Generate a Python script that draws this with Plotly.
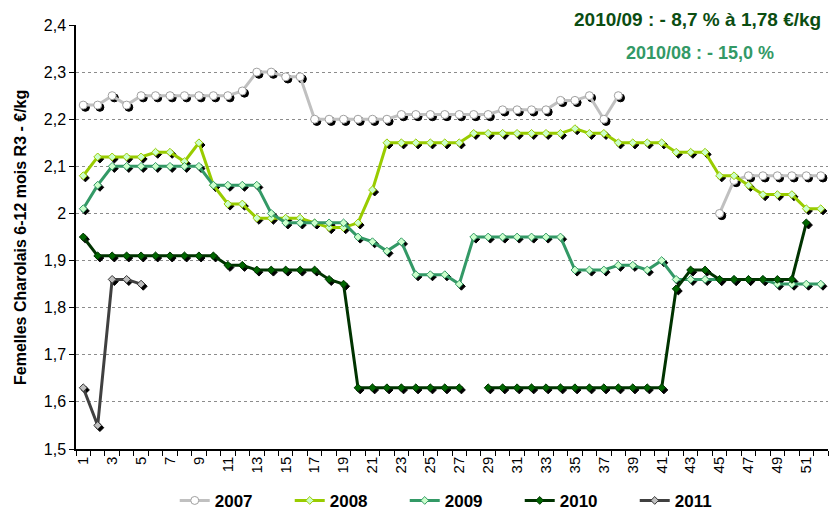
import plotly.graph_objects as go

weeks = list(range(1, 53))

y2007 = [2.23, 2.23, 2.25, 2.23, 2.25, 2.25, 2.25, 2.25, 2.25, 2.25,
         2.25, 2.26, 2.30, 2.30, 2.29, 2.29, 2.20, 2.20, 2.20, 2.20,
         2.20, 2.20, 2.21, 2.21, 2.21, 2.21, 2.21, 2.21, 2.21, 2.22,
         2.22, 2.22, 2.22, 2.24, 2.24, 2.25, 2.20, 2.25, None, None,
         None, None, None, None, 2.00, 2.07, 2.08, 2.08, 2.08, 2.08,
         2.08, 2.08]
y2008 = [2.08, 2.12, 2.12, 2.12, 2.12, 2.13, 2.13, 2.11, 2.15, 2.06,
         2.02, 2.02, 1.99, 1.99, 1.99, 1.99, 1.98, 1.97, 1.97, 1.98,
         2.05, 2.15, 2.15, 2.15, 2.15, 2.15, 2.15, 2.17, 2.17, 2.17,
         2.17, 2.17, 2.17, 2.17, 2.18, 2.17, 2.17, 2.15, 2.15, 2.15,
         2.15, 2.13, 2.13, 2.13, 2.08, 2.08, 2.06, 2.04, 2.04, 2.04,
         2.01, 2.01]
y2009 = [2.01, 2.06, 2.10, 2.10, 2.10, 2.10, 2.10, 2.10, 2.10, 2.06,
         2.06, 2.06, 2.06, 2.00, 1.98, 1.98, 1.98, 1.98, 1.98, 1.95,
         1.94, 1.92, 1.94, 1.87, 1.87, 1.87, 1.85, 1.95, 1.95, 1.95,
         1.95, 1.95, 1.95, 1.95, 1.88, 1.88, 1.88, 1.89, 1.89, 1.88,
         1.90, 1.86, 1.86, 1.86, 1.86, 1.86, 1.86, 1.86, 1.85, 1.85,
         1.85, 1.85]
y2010 = [1.95, 1.91, 1.91, 1.91, 1.91, 1.91, 1.91, 1.91, 1.91, 1.91,
         1.89, 1.89, 1.88, 1.88, 1.88, 1.88, 1.88, 1.86, 1.85, 1.63,
         1.63, 1.63, 1.63, 1.63, 1.63, 1.63, 1.63, None, 1.63, 1.63,
         1.63, 1.63, 1.63, 1.63, 1.63, 1.63, 1.63, 1.63, 1.63, 1.63,
         1.63, 1.84, 1.88, 1.88, 1.86, 1.86, 1.86, 1.86, 1.86, 1.86,
         1.98, None]
y2011 = [1.63, 1.55, 1.86, 1.86, 1.85]

series_names = ["2007", "2008", "2009", "2010", "2011"]
series_values = [y2007, y2008, y2009, y2010, y2011]

ytick_vals = [1.5, 1.6, 1.7, 1.8, 1.9, 2.0, 2.1, 2.2, 2.3, 2.4]
ytick_text = ["1,5", "1,6", "1,7", "1,8", "1,9", "2", "2,1", "2,2", "2,3", "2,4"]
xtick_vals = list(range(1, 53, 2))
xtick_text = [str(v) for v in xtick_vals]

y_title = "Femelles Charolais 6-12 mois R3 - €/kg"
note1 = "2010/09 : - 8,7 % à 1,78 €/kg"
note2 = "2010/08 : - 15,0 %"

styles = {
    "2007": dict(line="#C0C0C0", fill="#FFFFFF", edge="#A0A0A0", symbol="circle", size=8),
    "2008": dict(line="#99CC00", fill="#CCFFCC", edge="#99CC00", symbol="diamond", size=6),
    "2009": dict(line="#339966", fill="#CCFFCC", edge="#339966", symbol="diamond", size=6),
    "2010": dict(line="#003300", fill="#006600", edge="#003300", symbol="diamond", size=6),
    "2011": dict(line="#404040", fill="#C0C0C0", edge="#333333", symbol="diamond", size=6),
}

FONT = "Liberation Sans, Arial, sans-serif"
x_range = [0.5, 52.5]
y_range = [1.5, 2.4]
plot_w = 752
plot_h = 424
sdx = 2.2 * (x_range[1] - x_range[0]) / plot_w
sdy = 2.2 * (y_range[1] - y_range[0]) / plot_h

fig = go.Figure()

# drop shadows (base subplot, shifted ranges, hidden axes)
for name, vals in zip(series_names, series_values):
    st = styles[name]
    fig.add_trace(go.Scatter(
        x=weeks[:len(vals)], y=vals, mode="markers",
        marker=dict(symbol=st["symbol"], size=st["size"], color="#000000",
                    line=dict(width=1, color="#000000")),
        xaxis="x", yaxis="y", showlegend=False, hoverinfo="skip"))

# main series (overlay subplot carrying the visible axes)
for name, vals in zip(series_names, series_values):
    st = styles[name]
    fig.add_trace(go.Scatter(
        x=weeks[:len(vals)], y=vals, mode="lines+markers", name=name,
        connectgaps=False,
        line=dict(color=st["line"], width=3),
        marker=dict(symbol=st["symbol"], size=st["size"], color=st["fill"],
                    line=dict(width=1, color=st["edge"])),
        xaxis="x2", yaxis="y2"))

fig.update_layout(
    width=829, height=516,
    margin=dict(l=76, r=1, t=25, b=67, autoexpand=False),
    paper_bgcolor="white", plot_bgcolor="white",
    font=dict(family=FONT, color="black", size=14),
    xaxis=dict(range=[x_range[0] - sdx, x_range[1] - sdx], visible=False),
    yaxis=dict(range=[y_range[0] + sdy, y_range[1] + sdy], visible=False),
    xaxis2=dict(range=x_range, overlaying="x", anchor="y2", side="bottom",
                tickmode="array", tickvals=xtick_vals, ticktext=xtick_text,
                tickangle=-90, tickfont=dict(size=15), ticks="", showgrid=False,
                showline=True, linecolor="black", linewidth=1.5, zeroline=False,
                automargin=False,
                minor=dict(tickmode="linear", tick0=0.5, dtick=1, ticks="outside",
                           ticklen=5, tickcolor="black", tickwidth=1, showgrid=False)),
    yaxis2=dict(range=y_range, overlaying="y", anchor="x2", side="left",
                tickmode="array", tickvals=ytick_vals, ticktext=ytick_text,
                tickfont=dict(size=16), ticks="outside", ticklen=5, tickcolor="black",
                showline=True, linecolor="black", linewidth=1.5, zeroline=False,
                automargin=False,
                showgrid=True, gridcolor="#8C8C8C", gridwidth=1, griddash="3px,3px"),
    legend=dict(orientation="h", x=0.1313, xanchor="left", y=-0.1224, yanchor="middle",
                font=dict(size=17, family=FONT, color="black", weight="bold"),
                entrywidth=70, itemwidth=30, bgcolor="rgba(0,0,0,0)"),
    annotations=[
        dict(text=y_title, xref="paper", yref="paper", x=-0.0745, y=0.5,
             xanchor="center", yanchor="middle", textangle=-90, showarrow=False,
             font=dict(size=16, family=FONT, color="black", weight="bold")),
        dict(text=note1, xref="paper", yref="paper", x=(823 - 76) / 752, y=(449 - 20) / 424,
             xanchor="right", yanchor="middle", showarrow=False,
             font=dict(size=19, family=FONT, color="#0B4D12", weight="bold")),
        dict(text=note2, xref="paper", yref="paper", x=(700 - 76) / 752, y=(449 - 53) / 424,
             xanchor="center", yanchor="middle", showarrow=False,
             font=dict(size=18, family=FONT, color="#339966", weight="bold")),
    ],
)

fig.write_html("out.html", config={"displayModeBar": False},
               post_script="document.body.style.margin='0px';")
